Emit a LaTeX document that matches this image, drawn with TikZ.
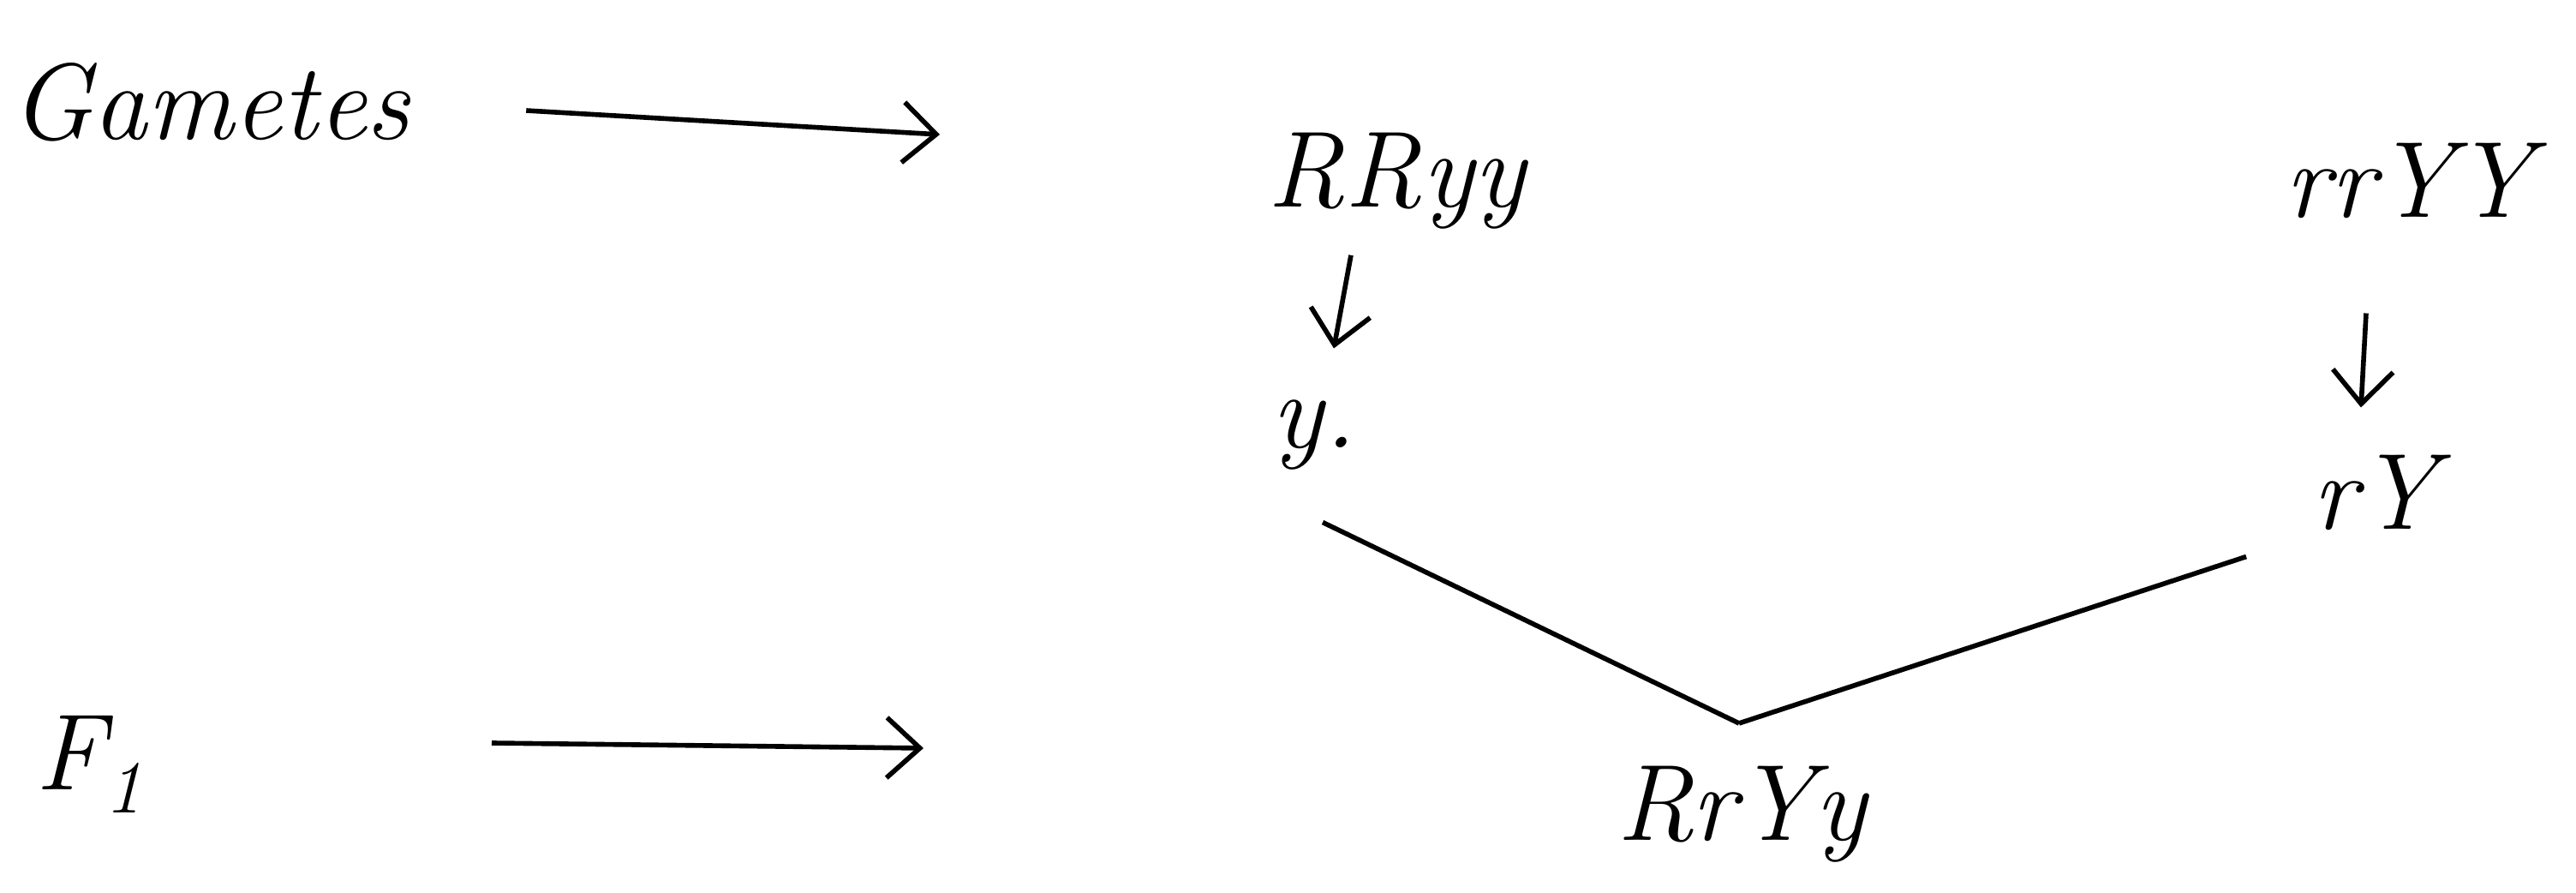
\documentclass[tikz,border=0pt]{standalone}
\usetikzlibrary{arrows.meta}
\begin{document}
\begin{tikzpicture}[
  hw/.style={inner sep=0pt, font=\fontsize{36}{42}\selectfont\itshape},
  arr/.style={line width=1.6pt, -{Straight Barb[length=11pt,width=20pt,line width=1.6pt]}},
  ln/.style={line width=1.6pt}
]
\useasboundingbox (0,0) rectangle (30.07,10.42);
\node[hw, anchor=west] (gam) at (0.12,9.23) {Gametes};
\node[hw] (RRyy) at (16.30,8.31) {RRyy};
\node[hw] (rrYY) at (28.12,8.31) {rrYY};
\node[hw] (y) at (15.34,5.34) {y.};
\node[hw] (rY) at (27.72,4.67) {rY};
\node[hw] (RrYy) at (20.33,0.92) {RrYy};
\node[hw] (F1) at (1.11,1.50) {F$_{\mathit 1}$};
\coordinate (g2) at (10.97,8.85);
\coordinate (f2) at (10.78,1.69);
\coordinate (j) at (20.30,1.98);
\draw[arr] ([xshift=1.35cm,yshift=-0.1cm]gam.east) -- (g2);
\draw[arr] ([xshift=4.63cm,yshift=0.25cm]F1.center) -- (f2);
\draw[arr] ([xshift=-0.53cm,yshift=-0.3cm]RRyy.south) -- ([xshift=0.23cm,yshift=0.6cm]y.north);
\draw[arr] ([xshift=-0.5cm,yshift=-1.1cm]rrYY.south) -- ([xshift=-0.16cm,yshift=0.55cm]rY.north);
\draw[ln] ([xshift=0.1cm,yshift=-0.6cm]y.south) -- (j);
\draw[ln] (j) -- ([xshift=-1.5cm,yshift=-0.3cm]rY.south);
\end{tikzpicture}
\end{document}
